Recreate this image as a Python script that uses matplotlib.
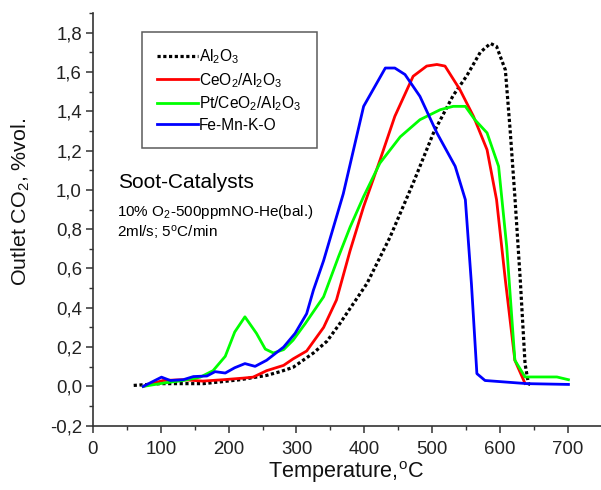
import matplotlib
matplotlib.use("Agg")
import matplotlib.pyplot as plt
from matplotlib.ticker import MultipleLocator, FuncFormatter

plt.rcParams['font.family'] = ['Liberation Sans', 'DejaVu Sans']
plt.rcParams['mathtext.fontset'] = 'custom'
plt.rcParams['mathtext.rm'] = 'Liberation Sans'
plt.rcParams['mathtext.it'] = 'Liberation Sans:italic'
plt.rcParams['mathtext.bf'] = 'Liberation Sans:bold'

# Data
al_T = [60, 99, 163, 217, 256, 276, 295, 325, 345, 364, 404, 438, 472, 502, 531, 551,
        571, 586, 595, 608, 615, 622, 630, 637, 642, 647]
al_y = [0.005, 0.014, 0.014, 0.034, 0.056, 0.075, 0.097, 0.17, 0.23, 0.32, 0.524, 0.76,
        1.034, 1.29, 1.48, 1.58, 1.70, 1.745, 1.73, 1.61, 1.306, 0.966, 0.54, 0.116,
        0.014, 0.005]

ce_T = [74, 103, 133, 162, 192, 221, 236, 256, 281, 295, 315, 340, 359, 379, 399, 423,
        445, 472, 492, 507, 519, 541, 561, 581, 595, 608, 622, 637]
ce_y = [0.0, 0.03, 0.034, 0.027, 0.034, 0.042, 0.047, 0.08, 0.107, 0.14, 0.18, 0.30,
        0.44, 0.69, 0.915, 1.15, 1.374, 1.578, 1.63, 1.638, 1.63, 1.51, 1.374, 1.204,
        0.95, 0.54, 0.133, 0.015]

pt_T = [74, 104, 133, 158, 177, 195, 209, 224, 241, 254, 266, 281, 295, 313, 340, 362,
        379, 399, 423, 453, 482, 512, 531, 549, 563, 581, 598, 610, 622, 637, 684, 701]
pt_y = [0.0, 0.017, 0.03, 0.047, 0.08, 0.153, 0.277, 0.354, 0.27, 0.19, 0.17, 0.187,
        0.235, 0.32, 0.456, 0.66, 0.81, 0.966, 1.136, 1.27, 1.357, 1.408, 1.425, 1.425,
        1.357, 1.29, 1.12, 0.71, 0.133, 0.048, 0.048, 0.034]

fe_T = [74, 101, 114, 133, 148, 168, 180, 195, 209, 224, 239, 256, 281, 298, 315, 325,
        340, 369, 399, 431, 445, 460, 482, 507, 534, 549, 558, 566, 578, 640, 701]
fe_y = [0.0, 0.047, 0.03, 0.034, 0.05, 0.053, 0.075, 0.068, 0.095, 0.116, 0.102, 0.133,
        0.2, 0.27, 0.37, 0.49, 0.64, 0.98, 1.425, 1.62, 1.62, 1.587, 1.476, 1.29, 1.12,
        0.95, 0.52, 0.065, 0.03, 0.014, 0.01]

labels = ['Al$_2$O$_3$', 'CeO$_2$/Al$_2$O$_3$', 'Pt/CeO$_2$/Al$_2$O$_3$', 'Fe-Mn-K-O']

W, H = 601, 490
fig = plt.figure(figsize=(W/100, H/100), dpi=100)
ax = fig.add_axes([93/W, (H-425.7)/H, (W-93)/W, (425.7-13)/H])

ax.plot(al_T, al_y, color='black', lw=2.3, linestyle=(0, (1, 0.8)), label=labels[0])
ax.plot(ce_T, ce_y, color='#ff0000', lw=2.0, label=labels[1])
ax.plot(pt_T, pt_y, color='#00ff00', lw=2.0, label=labels[2])
ax.plot(fe_T, fe_y, color='#0000ff', lw=2.0, label=labels[3])

ax.set_xlim(0, 749)
ax.set_ylim(-0.2, 1.9)
ax.xaxis.set_major_locator(MultipleLocator(100))
ax.xaxis.set_minor_locator(MultipleLocator(50))
ax.yaxis.set_major_locator(MultipleLocator(0.2))
ax.yaxis.set_minor_locator(MultipleLocator(0.1))
ax.yaxis.set_major_formatter(FuncFormatter(lambda v, p: f"{v:.1f}".replace('.', ',').replace('-0,0', '0,0')))
ax.set_xticks(range(0, 701, 100))

for s in ['top', 'right']:
    ax.spines[s].set_visible(False)
for s in ['left', 'bottom']:
    ax.spines[s].set_linewidth(1.2)
    ax.spines[s].set_color('#333333')
ax.tick_params(which='major', direction='out', length=5, width=1.1, labelsize=13.4,
               color='#333333', labelcolor='#222222')
ax.tick_params(axis='x', which='major', pad=6)
ax.tick_params(axis='y', which='major', pad=3)
ax.tick_params(which='minor', direction='out', length=3, width=1.0, color='#333333')

fig.text(346/W, (H-478)/H, 'Temperature,$\\mathregular{^o}$C', fontsize=15.6,
         ha='center', va='baseline', color='#111111')
fig.text(21/W, (H-202)/H, 'Outlet CO$_2$, %vol.', fontsize=15.4, rotation=90,
         ha='center', va='center', color='#111111')

leg = ax.legend(loc='upper left', bbox_to_anchor=((141.5-93)/508, 1-(32-13)/412.7),
                fontsize=11.2, frameon=True, fancybox=False, edgecolor='#333333',
                handlelength=2.6, handletextpad=0.1, labelspacing=0.3,
                borderpad=1.0, borderaxespad=0)
leg.get_frame().set_linewidth(1.1)

def px2data(px, py):
    return (px - 93) / 0.678, (386 - py) / 196

x0, y0 = px2data(118, 183)
ax.text(x0, y0, 'Soot-Catalysts', fontsize=15, va='center')
x1, y1 = px2data(117, 212)
ax.text(x1, y1, '10% O$_2$-500ppmNO-He(bal.)', fontsize=11, va='center')
x2, y2 = px2data(117, 232)
ax.text(x2, y2, '2ml/s; 5$\\mathregular{^o}$C/min', fontsize=11, va='center')

fig.savefig('out.png', dpi=100)
